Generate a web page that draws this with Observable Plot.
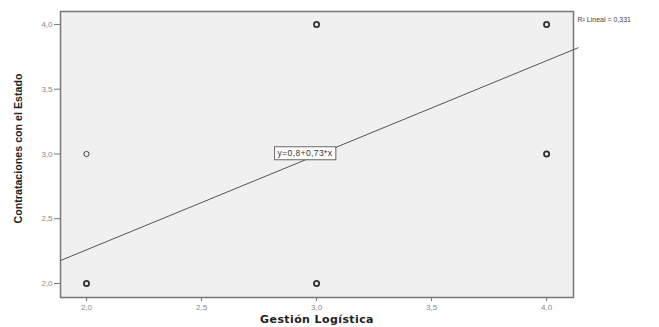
<!DOCTYPE html>
<html><head><meta charset="utf-8">
<script src="https://cdn.jsdelivr.net/npm/d3@7"></script>
<script src="https://cdn.jsdelivr.net/npm/@observablehq/plot@0.6"></script>
<style>
html,body{margin:0;padding:0;background:#fff;}
#chart svg{display:block;}
</style>
</head><body><div id="chart"></div>
<script>
// Data
const gestion = [2, 2, 3, 3, 4, 4];          // x: Gestión Logística
const contrataciones = [2, 3, 2, 4, 3, 4];   // y: Contrataciones con el Estado
const overlap = [2, 1, 2, 2, 2, 2];          // heavier ring = overlapping cases
const intercept = 0.8;
const slope = 0.73;
const r2 = "0,331";
const xTicks = [2.0, 2.5, 3.0, 3.5, 4.0];
const yTicks = [2.0, 2.5, 3.0, 3.5, 4.0];
const xDomain = [1.887, 4.117];
const yDomain = [1.892, 4.1];
const eqX = [2.95];

const pts = gestion.map((g, i) => ({x: g, y: contrataciones[i], w: overlap[i]}));
const fitLine = [xDomain[0], xDomain[1] + 0.02].map(x => ({x, y: intercept + slope * x}));
const eq = eqX.map(x => ({x, y: intercept + slope * x + 0.05, t: `y=${String(intercept).replace(".", ",")}+${String(slope).replace(".", ",")}*x`}));
const fmt = d => d.toFixed(1).replace(".", ",");

const chart = Plot.plot({
  width: 659,
  height: 327,
  marginLeft: 60,
  marginRight: 86,
  marginTop: 11,
  marginBottom: 30,
  style: {fontFamily: "Liberation Sans, Arial, sans-serif", background: "#fff", overflow: "visible"},
  x: {domain: xDomain, ticks: xTicks},
  y: {domain: yDomain, ticks: yTicks},
  marks: [
    Plot.frame({fill: "#f0f0f0", stroke: "#777", strokeWidth: 1.5}),
    Plot.axisX({ticks: xTicks, tickFormat: fmt, tickSize: 4, tickPadding: 3, fontSize: 8, fill: "#888", stroke: "#777", label: null}),
    Plot.axisY({ticks: yTicks, tickFormat: fmt, tickSize: 6, tickPadding: 2, fontSize: 8, fill: "#888", stroke: "#777", label: null}),
    Plot.line(fitLine, {x: "x", y: "y", stroke: "#555", strokeWidth: 1}),
    Plot.dot(pts, {x: "x", y: "y", r: 2.6, stroke: "#333", strokeWidth: d => d.w === 2 ? 1.8 : 0.9, fill: "none"}),
    Plot.text(eq, {x: "x", y: "y", text: "t", fontSize: 8.5, fill: "#333", className: "eqlabel"}),
    Plot.text(["R² Lineal = " + r2], {frameAnchor: "top-right", dx: 4, dy: 6, textAnchor: "start", fontSize: 7, fill: "#444"}),
    Plot.text(["Gestión Logística"], {frameAnchor: "bottom", dy: 25, fontSize: 11, fontWeight: "bold", fill: "#222", fontFamily: "DejaVu Sans, sans-serif", className: "xlab"}),
    Plot.text(["Contrataciones con el Estado"], {frameAnchor: "left", dx: -42, dy: 69, rotate: -90, textAnchor: "start", fontSize: 11, fontWeight: "bold", fill: "#222", className: "ylab"})
  ]
});
document.getElementById("chart").appendChild(chart);
d3.select(chart).selectAll(".xlab text").style("letter-spacing", "0.4px");
d3.select(chart).selectAll(".ylab text").attr("textLength", 150).attr("lengthAdjust", "spacingAndGlyphs");
d3.select(chart).selectAll(".eqlabel text").style("letter-spacing", "0.4px");
// white box with border behind the equation label
d3.select(chart).selectAll(".eqlabel text").each(function() {
  const b = this.getBBox();
  const t = this.getAttribute("transform");
  const r = document.createElementNS("http://www.w3.org/2000/svg", "rect");
  r.setAttribute("x", b.x - 3); r.setAttribute("y", b.y - 1.5);
  r.setAttribute("width", b.width + 6); r.setAttribute("height", b.height + 3);
  r.setAttribute("fill", "#fff"); r.setAttribute("stroke", "#666"); r.setAttribute("stroke-width", "1");
  if (t) r.setAttribute("transform", t);
  this.parentNode.insertBefore(r, this);
});
</script>
</body></html>
